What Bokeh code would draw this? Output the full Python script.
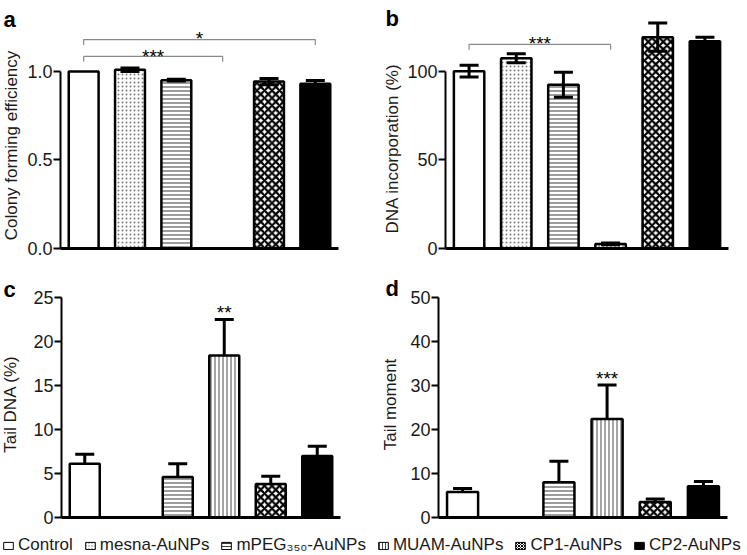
import math
from bokeh.plotting import figure
from bokeh.models import (Range1d, FixedTicker, Whisker, TeeHead, ColumnDataSource,
                          Legend, LegendItem, PrintfTickFormatter)
from bokeh.layouts import column, row
from bokeh.embed import file_html
from bokeh.resources import INLINE
from bokeh.core.properties import value

FONT = "Liberation Sans"

# ---------------- data ----------------
groups = ["Control", "mesna-AuNPs", "mPEG\u2083\u2085\u2080-AuNPs", "MUAM-AuNPs", "CP1-AuNPs", "CP2-AuNPs"]

cfe_mean = [1.00, 1.01, 0.951, None, 0.943, 0.93]
cfe_err = [0.0, 0.01, 0.005, None, 0.018, 0.019]

dna_mean = [100.2, 107.5, 92.5, 2.6, 119.4, 117.1]
dna_err = [3.3, 2.5, 7.0, 0.5, 8.0, 2.3]

tail_dna_mean = [6.1, None, 4.6, 18.4, 3.8, 7.0]
tail_dna_err = [1.1, None, 1.5, 4.1, 0.9, 1.1]

tail_mom_mean = [5.8, None, 8.0, 22.4, 3.5, 7.1]
tail_mom_err = [0.8, None, 4.8, 7.7, 0.7, 1.1]

ticks_a = [0, 0.5, 1.0]
ticks_b = [0, 50, 100]
ticks_c = [0, 5, 10, 15, 20, 25]
ticks_d = [0, 10, 20, 30, 40, 50]

ylabels = ["Colony forming efficiency", "DNA incorporation (%)", "Tail DNA (%)", "Tail moment"]
letters = ["a", "b", "c", "d"]

# significance: (from group, to group, bracket height, star height, text)
sig_a = [(0, 3, 1.085, 1.119, "***"), (0, 5, 1.18, 1.22, "*")]
sig_b = [(0, 3, 115.3, 119.2, "***")]
sig_c = [(3, None, None, 24.0, "**")]
sig_d = [(3, None, None, 32.9, "***")]

# ---------------- styles ----------------
fill_colors = ["white", "white", "white", "white", "white", "black"]
hatch_patterns = [" ", "dot", "horizontal_line", "vertical_line", "diagonal_cross", " "]
hatch_colors = ["black", "#7a7a7a", "#3a3a3a", "#4a4a4a", "black", "black"]
hatch_scales = [4, 4, 4, 4, 7.5, 4]
hatch_weights = [1, 1, 1, 1, 2.2, 1]
BAR_W = 0.645


def style(i):
    return dict(fill_color=fill_colors[i], hatch_pattern=hatch_patterns[i],
                hatch_color=hatch_colors[i], hatch_scale=hatch_scales[i],
                hatch_weight=hatch_weights[i], line_color="black")


def blank_fig(width, height, xr=(0, 1), yr=(0, 1)):
    f = figure(width=width, height=height, x_range=Range1d(*xr), y_range=Range1d(*yr),
               x_axis_type=None, y_axis_type=None, output_backend="svg",
               toolbar_location=None, min_border=0, title=None)
    f.outline_line_color = None
    f.background_fill_color = "white"
    f.border_fill_color = "white"
    f.xgrid.visible = False
    f.ygrid.visible = False
    return f


def make_strip(width, height, bb, ylabel, ylab_xy, letter, letter_xy):
    # thin strip left of each panel holding the panel letter and the y-axis title.
    # Its frame is aligned with the neighbouring panel (top 0, bottom border bb), so
    # the ranges are pixels counted from the strip's bottom edge.
    s = blank_fig(width, height, (0, width), (bb, height))
    s.text(x=[ylab_xy[0]], y=[ylab_xy[1]], text=[ylabel], angle=math.pi / 2,
           text_align="center", text_baseline="middle", text_font=value(FONT),
           text_font_size="17px", text_color="#1a1a1a")
    s.text(x=[letter_xy[0]], y=[letter_xy[1]], text=[letter], text_align="left",
           text_baseline="alphabetic", text_font=value(FONT), text_font_size="22px",
           text_font_style="bold", text_color="black")
    return s


def make_panel(means, errs, y_end, ticks, bounds, width, height, bl, br, bb,
               two_sided, sigs, drop, fmt=None):
    p = figure(width=width, height=height, x_range=Range1d(-0.5, 5.5),
               y_range=Range1d(0, y_end), output_backend="svg", toolbar_location=None,
               min_border_left=bl, min_border_right=br, min_border_top=0,
               min_border_bottom=bb, title=None)
    p.outline_line_color = None
    p.xgrid.visible = False
    p.ygrid.visible = False
    p.background_fill_color = "white"
    p.border_fill_color = "white"

    for i, g in enumerate(groups):
        if means[i] is None:
            continue
        p.vbar(x=[i], top=[means[i]], bottom=0, width=BAR_W, line_width=2.5, **style(i))

    bx, up, lo = [], [], []
    for i in range(len(groups)):
        if means[i] is None or not errs[i]:
            continue
        bx.append(i)
        up.append(means[i] + errs[i])
        lo.append(means[i] - errs[i] if two_sided else means[i])
    src = ColumnDataSource(dict(base=bx, upper=up, lower=lo))
    w = Whisker(source=src, base="base", upper="upper", lower="lower",
                line_width=3, line_color="black", level="annotation",
                upper_head=TeeHead(size=19, line_width=3, line_color="black"),
                lower_head=TeeHead(size=19, line_width=3, line_color="black") if two_sided else None)
    p.add_layout(w)

    sx, sy, st = [], [], []
    for a, b, hb, hs, t in sigs:
        if b is not None:
            p.line([a, a, b, b], [hb - drop, hb, hb, hb - drop], line_color="#8a8a8a", line_width=1.2)
            sx.append((a + b) / 2)
        else:
            sx.append(a)
        sy.append(hs)
        st.append(t)
    p.text(x=sx, y=sy, text=st, text_align="center", text_baseline="alphabetic",
           y_offset=6, text_font=value(FONT), text_font_size="19px", text_color="black")

    ya = p.yaxis[0]
    ya.ticker = FixedTicker(ticks=ticks)
    ya.bounds = bounds
    if fmt:
        ya.formatter = PrintfTickFormatter(format=fmt)
    ya.axis_line_width = 2
    ya.axis_line_color = "black"
    ya.major_tick_line_width = 2
    ya.major_tick_out = 7
    ya.major_tick_in = 0
    ya.minor_tick_line_color = None
    ya.major_label_text_font = FONT
    ya.major_label_text_font_size = "18px"
    ya.major_label_text_color = "#1a1a1a"
    ya.major_label_standoff = 1

    xa = p.xaxis[0]
    xa.ticker = FixedTicker(ticks=[])
    xa.axis_line_width = 3
    xa.axis_line_color = "black"
    xa.major_tick_line_color = None
    xa.minor_tick_line_color = None
    return p


# row 1 (height 268, frames from the top down to 20 px above the bottom)
sa = make_strip(24, 268, 20, ylabels[0], (11, 123), letters[0], (3, 249))
pa = make_panel(cfe_mean, cfe_err, 1.401, ticks_a, (0, 1.0), 352, 268, 36, 38, 20,
                True, sig_a, 0.03, fmt="%.1f")
sb = make_strip(28, 268, 20, ylabels[1], (15.5, 120), letters[1], (9, 250))
pb = make_panel(dna_mean, dna_err, 140.1, ticks_b, (0, 100), 343, 268, 39, 19, 20,
                True, sig_b, 3)

# row 2 (height 262, frames from the top down to 13 px above the bottom)
sc = make_strip(24, 262, 13, ylabels[2], (9.5, 126.5), letters[2], (3, 241))
pc = make_panel(tail_dna_mean, tail_dna_err, 28.3, ticks_c, (0, 25), 352, 262, 37, 36, 13,
                False, sig_c, 0)
sd = make_strip(26, 262, 13, ylabels[3], (14, 126), letters[3], (9, 242))
pd = make_panel(tail_mom_mean, tail_mom_err, 56.6, ticks_d, (0, 50), 345, 262, 36, 20, 13,
                False, sig_d, 0)

# ---------------- legend ----------------
# the swatch renderers reuse the panel-b values but lie outside this strip's ranges
pl = blank_fig(747, 25, (100, 101), (1000, 1001))
items = []
for i, g in enumerate(groups):
    st = style(i)
    st["hatch_scale"] = min(st["hatch_scale"], 3)
    st["hatch_weight"] = min(st["hatch_weight"], 1)
    r = pl.vbar(x=[i], top=[dna_mean[i]], width=0.5, line_width=1, **st)
    items.append(LegendItem(label=g, renderers=[r]))
leg = Legend(items=items, orientation="horizontal", location=(2, 0), glyph_width=12,
             glyph_height=9, label_standoff=4, spacing=11, padding=0, margin=0,
             border_line_color=None, background_fill_alpha=0, label_text_font=FONT,
             label_text_font_size="17px", label_text_color="#1a1a1a", label_height=14)
pl.add_layout(leg, "center")

layout = column(row(sa, pa, sb, pb), row(sc, pc, sd, pd), pl)
open("out.html", "w").write(file_html(layout, INLINE))
